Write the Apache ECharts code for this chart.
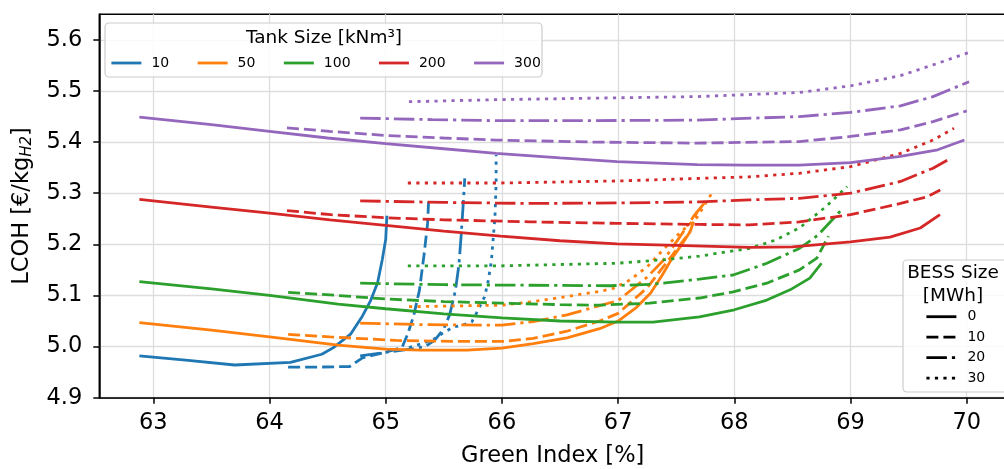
<!DOCTYPE html>
<html><head><meta charset="utf-8">
<script src="https://cdn.jsdelivr.net/npm/echarts@6/dist/echarts.min.js"></script>
<style>html,body{margin:0;padding:0;background:#fff}#c{width:1004px;height:469px}</style>
</head><body><div id="c"></div>
<script>
// ---------------- DATA ----------------
const tankSizes = ['10', '50', '100', '200', '300'];
const bessSizes = ['0', '10', '20', '30'];
const xTicks = [63, 64, 65, 66, 67, 68, 69, 70];
const yTicks = [4.9, 5.0, 5.1, 5.2, 5.3, 5.4, 5.5, 5.6];

// [Green Index %, LCOH]
const T10_B0  = [[62.88,4.982],[63.3,4.973],[63.7,4.964],[64.18,4.969],[64.45,4.985],[64.55,4.998],[64.7,5.025],[64.8,5.06],[64.87,5.09],[64.93,5.125],[64.97,5.17],[65.0,5.21],[65.01,5.256]];
const T10_B10 = [[64.16,4.960],[64.45,4.960],[64.69,4.961],[64.8,4.978],[65.0,4.989],[65.14,4.998],[65.19,5.025],[65.24,5.06],[65.29,5.11],[65.33,5.18],[65.36,5.24],[65.37,5.29]];
const T10_B20 = [[64.78,4.982],[65.04,4.990],[65.24,4.996],[65.34,5.0],[65.42,5.012],[65.5,5.035],[65.55,5.062],[65.6,5.11],[65.63,5.16],[65.65,5.22],[65.67,5.29],[65.68,5.329]];
const T10_B30 = [[65.2,4.998],[65.3,5.005],[65.41,5.014],[65.49,5.026],[65.58,5.038],[65.66,5.042],[65.74,5.048],[65.78,5.065],[65.85,5.097],[65.88,5.126],[65.91,5.169],[65.94,5.254],[65.95,5.32],[65.95,5.375]];

const T50_B0  = [[62.88,5.047],[63.5,5.032],[64.0,5.019],[64.59,5.003],[65.0,4.995],[65.3,4.993],[65.7,4.993],[66.0,4.997],[66.27,5.006],[66.56,5.017],[66.84,5.035],[67.0,5.05],[67.15,5.075],[67.28,5.105],[67.38,5.14],[67.47,5.175],[67.55,5.2],[67.62,5.225]];
const T50_B10 = [[64.16,5.024],[64.52,5.019],[65.09,5.012],[65.67,5.010],[66.0,5.010],[66.27,5.016],[66.56,5.03],[66.84,5.05],[67.0,5.065],[67.25,5.115],[67.47,5.18],[67.62,5.225],[67.68,5.265]];
const T50_B20 = [[64.78,5.046],[65.3,5.043],[65.81,5.042],[66.0,5.042],[66.27,5.049],[66.56,5.062],[66.84,5.08],[67.0,5.09],[67.25,5.136],[67.39,5.169],[67.53,5.214],[67.65,5.255],[67.74,5.28]];
const T50_B30 = [[65.2,5.078],[66.0,5.081],[66.27,5.088],[66.56,5.098],[66.84,5.108],[66.96,5.114],[67.1,5.13],[67.25,5.156],[67.39,5.19],[67.53,5.222],[67.68,5.253],[67.82,5.305]];

const T100_B0  = [[62.88,5.127],[63.5,5.113],[64.0,5.100],[64.59,5.083],[65.0,5.074],[65.5,5.064],[66.0,5.056],[66.5,5.050],[67.0,5.048],[67.3,5.048],[67.7,5.058],[68.0,5.072],[68.28,5.091],[68.48,5.111],[68.65,5.134],[68.75,5.163]];
const T100_B10 = [[64.16,5.106],[64.59,5.100],[65.0,5.093],[65.5,5.088],[66.0,5.085],[66.5,5.082],[66.84,5.081],[67.27,5.085],[67.7,5.095],[67.99,5.107],[68.28,5.124],[68.56,5.150],[68.71,5.173],[68.81,5.216]];
const T100_B20 = [[64.78,5.124],[65.5,5.121],[66.24,5.12],[66.93,5.119],[67.3,5.122],[67.7,5.132],[67.99,5.140],[68.28,5.163],[68.56,5.192],[68.72,5.218],[68.92,5.267]];
const T100_B30 = [[65.19,5.158],[65.99,5.158],[66.99,5.163],[67.4,5.17],[67.7,5.177],[68.13,5.192],[68.35,5.208],[68.56,5.232],[68.79,5.274],[68.97,5.313]];

const T200_B0  = [[62.88,5.288],[63.5,5.273],[64.0,5.261],[64.52,5.248],[65.0,5.237],[65.5,5.226],[65.99,5.216],[66.5,5.207],[66.99,5.201],[67.5,5.198],[68.13,5.194],[68.5,5.195],[69.0,5.205],[69.34,5.214],[69.6,5.232],[69.77,5.258]];
const T200_B10 = [[64.15,5.266],[64.53,5.258],[65.0,5.252],[65.5,5.248],[66.24,5.244],[67.0,5.241],[67.7,5.239],[68.13,5.238],[68.56,5.244],[69.0,5.258],[69.43,5.280],[69.66,5.293],[69.81,5.311]];
const T200_B20 = [[64.78,5.285],[65.5,5.282],[66.24,5.280],[67.0,5.281],[67.7,5.283],[68.13,5.287],[68.56,5.290],[69.0,5.300],[69.43,5.323],[69.71,5.349],[69.86,5.368]];
const T200_B30 = [[65.19,5.320],[65.99,5.320],[67.0,5.324],[67.7,5.329],[68.13,5.332],[68.56,5.339],[69.0,5.352],[69.43,5.378],[69.71,5.404],[69.89,5.427]];

const T300_B0  = [[62.88,5.449],[63.5,5.434],[64.0,5.421],[64.5,5.408],[65.0,5.397],[65.5,5.387],[65.95,5.378],[66.5,5.369],[66.99,5.362],[67.68,5.356],[68.1,5.355],[68.56,5.355],[69.0,5.360],[69.43,5.372],[69.75,5.385],[69.98,5.404]];
const T300_B10 = [[64.15,5.428],[64.52,5.421],[65.0,5.413],[65.5,5.408],[65.95,5.404],[66.8,5.400],[67.68,5.398],[68.56,5.401],[69.0,5.411],[69.43,5.424],[69.71,5.440],[70.0,5.461]];
const T300_B20 = [[64.78,5.447],[65.4,5.444],[65.95,5.442],[66.8,5.442],[67.68,5.443],[68.56,5.450],[69.0,5.458],[69.43,5.471],[69.71,5.489],[70.02,5.518]];
const T300_B30 = [[65.2,5.479],[65.95,5.483],[66.8,5.486],[67.68,5.489],[68.56,5.497],[69.0,5.510],[69.43,5.530],[69.71,5.551],[70.04,5.577]];

// ---------------- STYLE ----------------
const FONT = 'DejaVu Sans';
const tankColors = ['#1f77b4', '#ff7f0e', '#2ca02c', '#d62728', '#9467bd'];
const LW = 2.8;
const dashTypes = ['solid', [12, 5], [20.5, 5, 3.2, 5], [3.2, 5.3]];

const curves = [
  [T10_B0, T10_B10, T10_B20, T10_B30],
  [T50_B0, T50_B10, T50_B20, T50_B30],
  [T100_B0, T100_B10, T100_B20, T100_B30],
  [T200_B0, T200_B10, T200_B20, T200_B30],
  [T300_B0, T300_B10, T300_B20, T300_B30]
];

const series = [];
tankSizes.forEach((t, i) => {
  bessSizes.forEach((b, j) => {
    series.push({
      type: 'line', name: 'T' + t + '_B' + b, data: curves[i][j],
      symbol: 'none', showSymbol: false, animation: false, z: 2,
      itemStyle: { color: tankColors[i] },
      lineStyle: { color: tankColors[i], width: LW, type: dashTypes[j] }
    });
  });
});
// legend-only series
tankSizes.forEach((t, i) => {
  series.push({ type: 'line', name: t, data: [], symbol: 'none', animation: false,
    itemStyle: { color: tankColors[i] }, lineStyle: { color: tankColors[i], width: LW, type: 'solid' } });
});
bessSizes.forEach((b, j) => {
  series.push({ type: 'line', name: 'BESS ' + b, data: [], symbol: 'none', animation: false,
    itemStyle: { color: '#000' }, lineStyle: { color: '#000', width: LW, type: dashTypes[j] } });
});

const chart = echarts.init(document.getElementById('c'), null, { renderer: 'canvas' });
chart.setOption({
  animation: false,
  backgroundColor: '#fff',
  textStyle: { fontFamily: FONT },
  grid: { left: 99.3, top: 14.3, right: -2, bottom: 71.3, show: true, borderColor: '#000', borderWidth: 1.5,
          backgroundColor: 'transparent', outerBoundsMode: 'none', containLabel: false },
  xAxis: {
    type: 'value', min: 62.535, max: 70.338,
    axisLine: { show: true, onZero: false, lineStyle: { color: '#000', width: 1.5 } },
    axisTick: { show: true, length: 6, lineStyle: { color: '#000', width: 1.5 }, customValues: xTicks },
    axisLabel: { customValues: xTicks, fontSize: 22.5, color: '#000', margin: 14, fontFamily: FONT,
                 formatter: v => String(Math.round(v)) },
    splitLine: { show: true, lineStyle: { color: '#dddddd', width: 1.3 } },
    name: 'Green Index [%]', nameLocation: 'middle', nameGap: 47,
    nameTextStyle: { fontSize: 22.5, color: '#000', fontFamily: FONT }
  },
  yAxis: {
    type: 'value', min: 4.9, max: 5.65,
    axisLine: { show: true, onZero: false, lineStyle: { color: '#000', width: 1.5 } },
    axisTick: { show: true, length: 6, lineStyle: { color: '#000', width: 1.5 }, customValues: yTicks },
    axisLabel: { customValues: yTicks, fontSize: 22.5, color: '#000', margin: 17, fontFamily: FONT,
                 formatter: v => Number(v).toFixed(1) },
    splitLine: { show: true, lineStyle: { color: '#dddddd', width: 1.3 } }
  },
  legend: [
    {
      data: tankSizes, orient: 'horizontal', left: 110, top: 56, padding: 0,
      itemWidth: 30, itemHeight: 14, itemGap: 27, selectedMode: false, z: 110,
      lineStyle: { width: LW }, itemStyle: { opacity: 0 },
      textStyle: { fontSize: 14, color: '#000', fontFamily: FONT, padding: [0, 0, 0, 5] }
    },
    {
      data: bessSizes.map(b => 'BESS ' + b), orient: 'vertical', left: 925, top: 309.7, padding: 0,
      itemWidth: 30, itemHeight: 14, itemGap: 6.5, selectedMode: false, z: 110,
      lineStyle: { width: LW }, itemStyle: { opacity: 0 },
      formatter: n => n.replace('BESS ', ''),
      textStyle: { fontSize: 14, color: '#000', fontFamily: FONT, padding: [0, 0, 0, 6] }
    }
  ],
  graphic: [
    { type: 'rect', z: 100, shape: { x: 105, y: 23, width: 437, height: 54, r: 4 },
      style: { fill: 'rgba(255,255,255,0.85)', stroke: '#cccccc', lineWidth: 1.2 } },
    { type: 'text', z: 101, x: 324, y: 38,
      style: { text: 'Tank Size [kNm³]', fontSize: 18.5, fontFamily: FONT, fill: '#000', align: 'center', verticalAlign: 'middle' } },
    { type: 'rect', z: 100, shape: { x: 903, y: 260, width: 130, height: 132, r: 4 },
      style: { fill: 'rgba(255,255,255,0.85)', stroke: '#cccccc', lineWidth: 1.2 } },
    { type: 'text', z: 101, x: 953, y: 285,
      style: { text: 'BESS Size\n[MWh]', fontSize: 18.5, lineHeight: 23, fontFamily: FONT, fill: '#000', align: 'center', verticalAlign: 'middle' } },
    { type: 'text', z: 101, x: 22, y: 206, rotation: Math.PI / 2,
      style: { text: '{a|LCOH [€/kg}{b|H2}{a|]}', align: 'center', verticalAlign: 'middle',
        rich: {
          a: { fontSize: 22.5, fontFamily: FONT, fill: '#000', lineHeight: 26 },
          b: { fontSize: 15, fontFamily: FONT, fontStyle: 'italic', fill: '#000', lineHeight: 15, verticalAlign: 'bottom' }
        } } }
  ],
  series: series
});
</script></body></html>
